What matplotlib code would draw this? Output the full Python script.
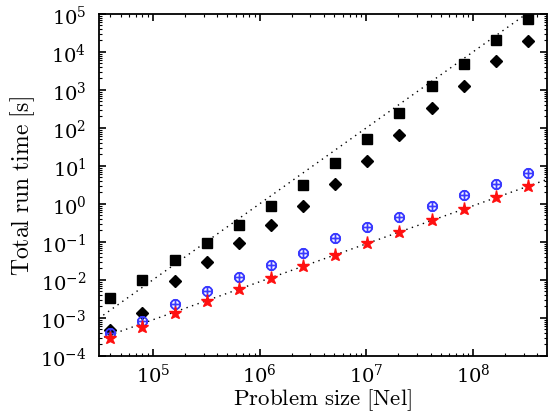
import numpy as np
import matplotlib
matplotlib.use("Agg")
import matplotlib.pyplot as plt
from matplotlib.ticker import LogLocator, NullFormatter

plt.rcParams['mathtext.fontset'] = 'cm'
plt.rcParams['font.family'] = ['DejaVu Serif']

# Problem sizes (number of elements)
nel = [4.0e4, 8.0e4, 1.6e5, 3.2e5, 6.4e5, 1.28e6, 2.56e6, 5.12e6,
       1.024e7, 2.048e7, 4.096e7, 8.192e7, 1.6384e8, 3.2768e8]

# Run times [s]
t_square = [3.4e-3, 1.0e-2, 3.4e-2, 9.6e-2, 0.285, 0.90, 3.2, 12.2,
            52, 240, 1290, 4900, 2.1e4, 7.4e4]
t_diamond = [4.9e-4, 1.38e-3, 9.1e-3, 3.0e-2, 9.3e-2, 0.27, 0.89, 3.4,
             13.8, 66, 342, 1290, 5600, 1.95e4]
t_blue = [4.0e-4, 8.5e-4, 2.3e-3, 5.0e-3, 1.2e-2, 2.45e-2, 5.0e-2, 0.128,
          0.245, 0.45, 0.87, 1.73, 3.4, 6.5]
t_red = [2.9e-4, 5.8e-4, 1.38e-3, 2.76e-3, 5.6e-3, 1.1e-2, 2.34e-2, 4.6e-2,
         9.1e-2, 0.18, 0.37, 0.73, 1.48, 2.95]

# Reference scaling lines (end points)
ref_x = [3.1e4, 4.9e8]
ref_quad_y = [9.6e-4, 2.4e5]
ref_lin_y = [2.76e-4, 4.36]

fig = plt.figure(figsize=(5.49, 4.14), dpi=100)
ax = fig.add_axes([0.180, 0.138, 0.8164, 0.826])

ax.plot(ref_x, ref_quad_y, color='black', lw=1.0, linestyle=(0, (1, 3.2)))
ax.plot(ref_x, ref_lin_y, color='black', lw=1.0, linestyle=(0, (1, 3.2)))

ax.plot(nel, t_square, marker='s', color='black', ms=7, ls='none')
ax.plot(nel, t_diamond, marker='D', color='black', ms=6.5, ls='none')
ax.plot(nel, t_blue, marker=r'$\oplus$', color='#3a3aff', ms=7, ls='none')
ax.plot(nel, t_red, marker='*', color='#ff1010', ms=9.5, ls='none', mec='#ff1010')

ax.set_xscale('log')
ax.set_yscale('log')
ax.set_xlim(3.12e4, 4.94e8)
ax.set_ylim(1e-4, 1e5)

ax.yaxis.set_major_locator(LogLocator(base=10, numticks=20))
ax.yaxis.set_minor_locator(LogLocator(base=10, subs=np.arange(2, 10), numticks=20))
ax.yaxis.set_minor_formatter(NullFormatter())
ax.xaxis.set_minor_formatter(NullFormatter())

ax.tick_params(which='both', direction='in', top=True, right=True, labelsize=14)
ax.tick_params(which='major', length=5, width=1.2)
ax.tick_params(which='minor', length=2.5, width=0.8)
ax.tick_params(axis='y', which='major', pad=9)
ax.tick_params(axis='x', which='major', pad=5)
for s in ax.spines.values():
    s.set_linewidth(1.3)

ax.set_xlabel(r'$\mathrm{Problem\ size\ [Nel]}$', fontsize=16.5, labelpad=0)
ax.set_ylabel(r'$\mathrm{Total\ run\ time\ [s]}$', fontsize=17, labelpad=2)

fig.savefig('out.png', dpi=100)
